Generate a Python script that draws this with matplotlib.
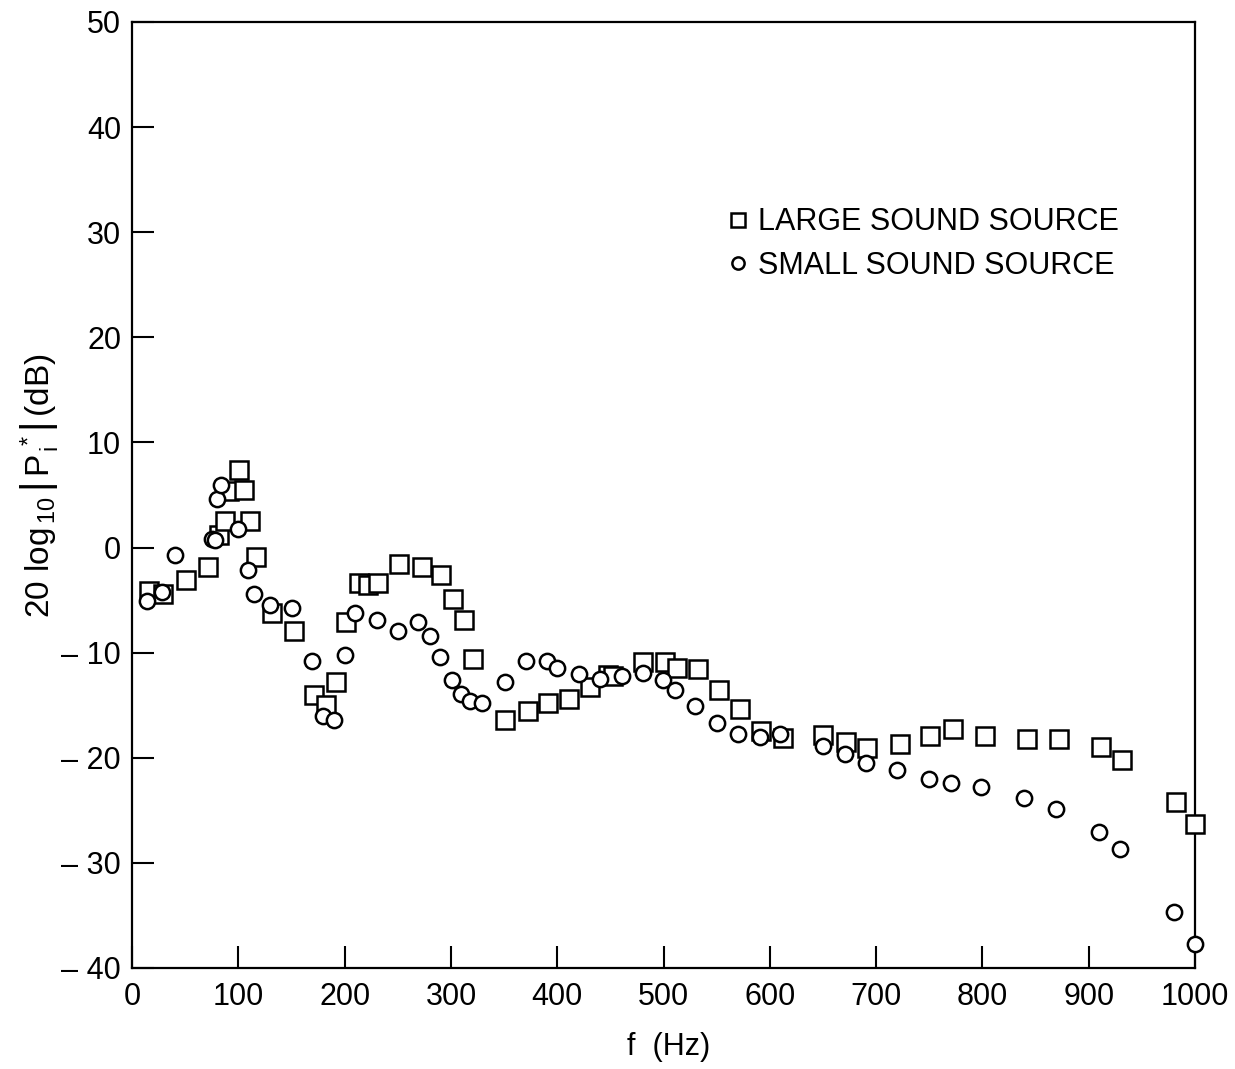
import matplotlib.pyplot as plt
import matplotlib

large_f = [16, 29, 51, 71, 82, 87, 91, 101, 105, 111, 117, 132, 152, 171, 182, 192,
           201, 213, 222, 231, 251, 273, 291, 302, 312, 321, 351, 372, 391, 411, 431,
           448, 452, 481, 501, 513, 532, 552, 572, 592, 612, 650, 672, 691, 722, 751,
           772, 802, 842, 872, 912, 931, 982, 1000]
large_db = [-4.1, -4.4, -3.1, -1.9, 1.2, 2.5, 5.4, 7.4, 5.5, 2.5, -0.9, -6.2, -7.9,
            -14.0, -15.0, -12.8, -7.1, -3.4, -3.6, -3.4, -1.6, -1.9, -2.6, -4.9, -6.9,
            -10.6, -16.4, -15.6, -14.8, -14.4, -13.3, -12.1, -12.2, -10.9, -10.9, -11.5,
            -11.6, -13.6, -15.4, -17.5, -18.1, -17.8, -18.5, -19.1, -18.7, -17.9, -17.3,
            -17.9, -18.2, -18.2, -19.0, -20.2, -24.2, -26.3]

small_f = [14, 28, 40, 75, 78, 80, 84, 100, 109, 115, 130, 150, 169, 180, 190, 200,
           210, 230, 250, 269, 280, 290, 301, 309, 318, 329, 351, 371, 390, 400, 420,
           440, 461, 481, 499, 511, 530, 550, 570, 591, 610, 650, 671, 690, 720, 750,
           770, 799, 839, 869, 910, 929, 980, 1000]
small_db = [-5.1, -4.2, -0.7, 0.8, 0.7, 4.6, 5.9, 1.8, -2.1, -4.4, -5.5, -5.8, -10.8,
            -16.0, -16.4, -10.2, -6.2, -6.9, -7.9, -7.1, -8.4, -10.4, -12.6, -13.9,
            -14.6, -14.8, -12.8, -10.8, -10.8, -11.5, -12.0, -12.5, -12.2, -11.9, -12.6,
            -13.6, -15.1, -16.7, -17.7, -18.0, -17.7, -18.9, -19.6, -20.5, -21.2, -22.0,
            -22.4, -22.8, -23.8, -24.9, -27.1, -28.7, -34.7, -37.7]

xticks = [0, 100, 200, 300, 400, 500, 600, 700, 800, 900, 1000]
yticks = [-40, -30, -20, -10, 0, 10, 20, 30, 40, 50]
ylabels = ['\u2013 40', '\u2013 30', '\u2013 20', '\u2013 10', '0', '10', '20', '30', '40', '50']

matplotlib.rcParams['font.family'] = ['Liberation Sans', 'DejaVu Sans']
matplotlib.rcParams['mathtext.fontset'] = 'custom'
matplotlib.rcParams['mathtext.rm'] = 'Liberation Sans'
matplotlib.rcParams['mathtext.it'] = 'Liberation Sans'

fig = plt.figure(figsize=(12.35, 10.69), dpi=100)
ax = fig.add_axes([0.107, 0.0945, 0.8606, 0.885])

ax.plot(large_f, large_db, linestyle='none', marker='s', ms=12.5, mfc='white',
        mec='black', mew=1.8, label='LARGE SOUND SOURCE', clip_on=False, zorder=3)
ax.plot(small_f, small_db, linestyle='none', marker='o', ms=11, mfc='white',
        mec='black', mew=1.8, label='SMALL SOUND SOURCE', clip_on=False, zorder=4)

ax.set_xlim(0, 1000)
ax.set_ylim(-40, 50)
ax.set_xticks(xticks)
ax.set_yticks(yticks)
ax.set_yticklabels(ylabels)
ax.tick_params(direction='in', length=16, width=1.5, labelsize=22)
ax.tick_params(axis='x', pad=10)
ax.tick_params(axis='y', pad=8)
for s in ax.spines.values():
    s.set_linewidth(1.6)

ax.set_xlabel('f  (Hz)', fontsize=22)
ax.xaxis.set_label_coords(0.505, -0.068)
ax.set_ylabel(r'20 log$_{\,10}\,\left|\,P^{\,*}_{\,i}\right|\,$(dB)', fontsize=24)
ax.yaxis.set_label_coords(-0.066, 0.51)

leg = ax.legend(loc='upper left', bbox_to_anchor=(0.530, 0.833), frameon=False,
                fontsize=22, handletextpad=0.15, labelspacing=0.45, markerscale=0.8,
                handlelength=1.0)

fig.savefig('out.png', dpi=100)
